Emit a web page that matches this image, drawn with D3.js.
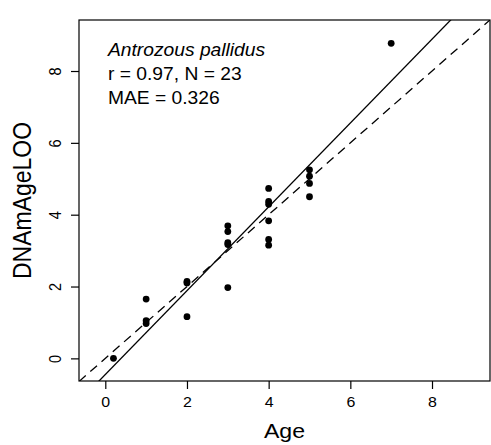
<!DOCTYPE html>
<html>
<head>
<meta charset="utf-8">
<script src="https://cdn.jsdelivr.net/npm/d3@7"></script>
<style>
  html, body { margin: 0; padding: 0; background: #fff; }
  svg { display: block; }
  text { font-family: "Liberation Sans", Arial, sans-serif; fill: #000; }
</style>
</head>
<body>
<svg id="chart" width="491" height="445"></svg>
<script>
// ---- data ----
const ages = [0.2, 1, 1, 1, 2, 2, 2, 3, 3, 3, 3, 3, 4, 4, 4, 4, 4, 4, 5, 5, 5, 5, 7];
const predicted = [0.00, 1.65, 1.05, 0.97, 2.14, 2.10, 1.16,
                   3.69, 3.53, 3.22, 3.17, 1.97,
                   4.73, 4.37, 4.29, 3.83, 3.31, 3.15,
                   5.25, 5.07, 4.87, 4.50, 8.77];
const xTicks = [0, 2, 4, 6, 8];
const yTicks = [0, 2, 4, 6, 8];
const fitLine = [1.167, -0.45];   // slope, intercept of solid line
const labels = ["Antrozous pallidus", "r = 0.97, N = 23", "MAE = 0.326"];
const xTitle = "Age";
const yTitle = "DNAmAgeLOO";

// ---- layout ----
const plot = { left: 79, top: 20, right: 490, bottom: 381 };
const xDomain = [-0.644, 9.42];
const yDomain = [-0.63, 9.42];
const sx = 1.1; // horizontal stretch of the reference image

const svg = d3.select("#chart");
const x = d3.scaleLinear().domain(xDomain).range([plot.left, plot.right]);
const y = d3.scaleLinear().domain(yDomain).range([plot.bottom, plot.top]);

svg.append("defs").append("clipPath").attr("id", "clip")
  .append("rect").attr("x", plot.left).attr("y", plot.top)
  .attr("width", plot.right - plot.left).attr("height", plot.bottom - plot.top);

// lines
const g = svg.append("g").attr("clip-path", "url(#clip)");
const line = d3.line().x(d => x(d[0])).y(d => y(d[1]));
g.append("path")
  .datum([[xDomain[0], xDomain[0]], [xDomain[1], xDomain[1]]])
  .attr("d", line).attr("fill", "none").attr("stroke", "#000")
  .attr("stroke-width", 1.3).attr("stroke-dasharray", "9,6");
g.append("path")
  .datum([xDomain[0], xDomain[1]].map(v => [v, fitLine[0] * v + fitLine[1]]))
  .attr("d", line).attr("fill", "none").attr("stroke", "#000")
  .attr("stroke-width", 1.3);

// points
svg.append("g").selectAll("circle").data(ages.map((a, i) => [a, predicted[i]]))
  .join("circle")
  .attr("cx", d => x(d[0])).attr("cy", d => y(d[1])).attr("r", 3.4)
  .attr("fill", "#000");

// box
svg.append("rect").attr("x", plot.left).attr("y", plot.top)
  .attr("width", plot.right - plot.left).attr("height", plot.bottom - plot.top)
  .attr("fill", "none").attr("stroke", "#000").attr("stroke-width", 1.2);

// x axis
const xAxis = svg.append("g").attr("transform", `translate(0,${plot.bottom})`)
  .call(d3.axisBottom(x).tickValues(xTicks).tickSize(8).tickPadding(8).tickFormat(d3.format("d")));
xAxis.select(".domain").remove();
xAxis.selectAll("line").attr("stroke", "#000").attr("stroke-width", 1.2);
xAxis.selectAll("text").attr("font-size", 14.5).attr("font-family", null)
  .attr("transform", `scale(${sx},1)`);

// y axis
const yAxis = svg.append("g").attr("transform", `translate(${plot.left},0)`)
  .call(d3.axisLeft(y).tickValues(yTicks).tickSize(8).tickFormat(d3.format("d")));
yAxis.select(".domain").remove();
yAxis.selectAll("line").attr("stroke", "#000").attr("stroke-width", 1.2);
yAxis.selectAll("text").attr("font-size", 14.5).attr("font-family", null)
  .attr("x", null).attr("dy", null)
  .attr("text-anchor", "middle")
  .attr("transform", `translate(-18,0) rotate(-90) scale(1,${sx})`);

// annotation
labels.forEach((t, i) => {
  svg.append("text")
    .attr("transform", `translate(108,${[56, 80, 104][i]}) scale(${sx},1)`)
    .attr("font-size", 17.5)
    .attr("font-style", i === 0 ? "italic" : "normal")
    .text(t);
});

// axis titles
svg.append("text")
  .attr("transform", `translate(${(plot.left + plot.right) / 2},438) scale(${sx},1)`)
  .attr("text-anchor", "middle").attr("font-size", 21).text(xTitle);
svg.append("text")
  .attr("transform", `translate(31,${(plot.top + plot.bottom) / 2}) rotate(-90) scale(1,${sx})`)
  .attr("text-anchor", "middle").attr("font-size", 23).text(yTitle);
</script>
</body>
</html>
